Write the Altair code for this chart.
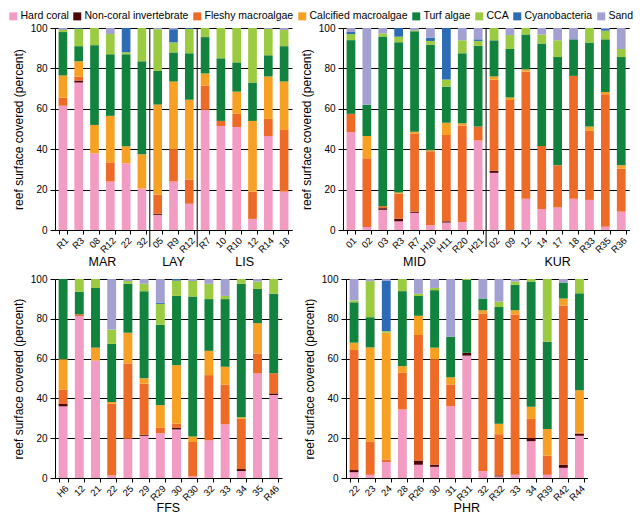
import altair as alt
import pandas as pd

FONT = "Liberation Sans"

CATEGORIES = ["Hard coral", "Non-coral invertebrate", "Fleshy macroalgae", "Calcified macroalgae",
              "Turf algae", "CCA", "Cyanobacteria", "Sand"]
COLORS = ["#F29BC3", "#4A0707", "#EE6A27", "#F7A124", "#12823F", "#9BCB40", "#2D6CB5", "#A2A1D2"]

# ---------------- Panel A: MAR / LAY / LIS ----------------
A_GROUPS = ["MAR"] * 6 + ["LAY"] * 3 + ["LIS"] * 6
A_SITES = ["R1", "R3", "08", "R12", "22", "32", "05", "R9", "R12", "R7", "10", "R10", "12", "R14", "18"]
A_HARD = [61.5, 73, 38, 24, 33, 20.5, 7.5, 24, 13, 59.5, 51.5, 51, 5.5, 46.5, 19]
A_NCI = [0, 1, 0, 0, 0, 0, 0.6, 0, 0, 0, 0, 0, 0, 0, 0]
A_FLESHY = [4, 2, 0, 9.5, 0, 0, 9.3, 16, 12, 12, 2.5, 6.5, 13.5, 8.5, 30.5]
A_CALC = [11, 7.5, 14, 23, 8.5, 17, 44.7, 33.5, 39.5, 6, 0, 11, 35, 21, 24]
A_TURF = [21.5, 7.5, 39.5, 30.5, 45.5, 46, 16.6, 14.4, 23, 18, 31, 14.5, 19, 10.5, 17.5]
A_CCA = [1, 8.7, 8.5, 10, 1, 16.5, 20.7, 5, 12, 4.5, 15, 17, 27, 13, 8]
A_CYANO = [0, 0.3, 0, 0, 12, 0, 0, 6.5, 0.5, 0, 0, 0, 0, 0, 0]
A_SAND = [1, 0, 0, 3, 0, 0, 0.6, 0.6, 0, 0, 0, 0, 0, 0.5, 1]

# ---------------- Panel B: MID / KUR ----------------
B_GROUPS = ["MID"] * 9 + ["KUR"] * 9
B_SITES = ["01", "02", "03", "R3", "R7", "H10", "H11", "R20", "H21",
           "02", "09", "12", "14", "17", "18", "R33", "R35", "R36"]
B_HARD = [48.5, 1.5, 10, 4.3, 8.5, 2.4, 3.7, 4, 44.3, 28.3, 0, 15.5, 10.4, 11.2, 15.5, 14.9, 1.6, 9.1]
B_NCI = [0, 0, 0.8, 1.3, 0.6, 0, 0.6, 0, 0, 1, 0, 0, 0, 0, 0, 0, 0, 0]
B_FLESHY = [9, 34, 1, 12.4, 38.7, 36.6, 42.7, 47.7, 6.9, 45.1, 64.3, 62.9, 31.2, 20.8, 60.8, 34.2, 65.6, 21.3]
B_CALC = [0, 11, 0, 0.6, 0.8, 0.5, 6.1, 1.1, 0, 1.6, 1.3, 1.1, 0, 0, 0, 2.1, 1.1, 1.6]
B_TURF = [36.5, 15.5, 84, 74.4, 49.8, 52.2, 17.9, 34.7, 40, 17.9, 24, 17.3, 50.7, 53.6, 18.1, 41.6, 26.1, 53.6]
B_CCA = [3, 0, 1.5, 2.7, 0.5, 1.9, 3.5, 6.4, 2.4, 6.1, 6.9, 3.2, 4.5, 8.3, 0, 7.2, 4.3, 4]
B_CYANO = [1, 0, 0, 4.3, 0, 1.6, 25.5, 0, 0.8, 0, 0, 0, 0, 0, 0, 0, 0.8, 0]
B_SAND = [2, 38, 2.7, 0, 1.1, 4.8, 0, 6.1, 5.6, 0, 3.5, 0, 3.2, 6.1, 5.6, 0, 0.5, 10.4]

# ---------------- Panel C: FFS ----------------
C_GROUPS = ["FFS"] * 14
C_SITES = ["H6", "12", "21", "22", "25", "29", "R29", "30", "R30", "32", "33", "34", "35", "R46"]
C_HARD = [36, 81.4, 59, 1.3, 19.7, 21.2, 22.5, 24.4, 0.8, 18.9, 27, 3.5, 52.6, 41.7]
C_NCI = [1.2, 0, 0, 0, 0, 0.5, 0, 0.8, 0, 0, 0, 1, 0, 0.8]
C_FLESHY = [7.3, 0.8, 0, 36.1, 37.8, 25.7, 2.7, 2.1, 17.3, 32.8, 20, 25.2, 10, 10.1]
C_CALC = [15.2, 0, 6.5, 0.8, 15.5, 2.7, 11.4, 29.4, 2.8, 12.2, 8.9, 0.8, 15.2, 0]
C_TURF = [40.3, 11.4, 30, 29.2, 24.6, 43.8, 40.4, 34.8, 70.3, 26, 34, 67.1, 17.2, 40]
C_CCA = [0, 6.4, 4.5, 7.2, 1.4, 3.7, 10.5, 7.7, 7.8, 7.7, 1.6, 2.4, 3.7, 7.4]
C_CYANO = [0, 0, 0, 0, 0, 0, 0.5, 0.8, 0, 0, 0, 0, 0, 0]
C_SAND = [0, 0, 0, 25.4, 1, 2.4, 12, 0, 1, 2.4, 8.5, 0, 1.3, 0]

# ---------------- Panel D: PHR ----------------
D_GROUPS = ["PHR"] * 15
D_SITES = ["22", "23", "24", "28", "R26", "30", "31", "R31", "32", "R32", "33", "34", "R39", "R42", "R44"]
D_HARD = [2.9, 1.6, 8, 34.5, 6.7, 5.6, 36.1, 61.5, 3.5, 0.8, 1.6, 18.5, 1.6, 5.1, 21.2]
D_NCI = [1.1, 0, 0, 0, 2.1, 1.1, 0, 1.4, 0, 0.5, 0, 1.6, 0, 1.6, 1]
D_FLESHY = [60.3, 16.8, 1.3, 18.5, 63.1, 53, 10.9, 0, 79.2, 20.7, 80.6, 9.6, 9.6, 80, 0.6]
D_CALC = [3.7, 47.2, 63.7, 3.2, 9.6, 5.8, 3.6, 0, 1.6, 5.3, 2.1, 6.1, 13.4, 3.5, 21.3]
D_TURF = [20.3, 15.2, 0, 37.7, 10, 28.9, 20.4, 36.6, 5.9, 58.6, 12.8, 62.9, 43.9, 8, 48.7]
D_CCA = [1, 18.1, 0.8, 6.1, 1.1, 1.1, 0, 0.5, 0, 2.7, 1.6, 1.3, 31.5, 0, 7.2]
D_CYANO = [0, 0, 25.2, 0, 0, 0, 0, 0, 0, 0, 0, 0, 0, 0, 0]
D_SAND = [10.7, 1.1, 1, 0, 7.4, 4.5, 29, 0, 9.8, 11.4, 1.3, 0, 0, 1.8, 0]

Y_TICKS = [0, 20, 40, 60, 80, 100]
PAD_INNER = 0.45


def panel(groups, sites, series, step, height, label_dy):
    keys = [f"{g}|{s}" for g, s in zip(groups, sites)]
    rows = []
    for i, key in enumerate(keys):
        for k, cat in enumerate(CATEGORIES):
            rows.append({"key": key, "group": groups[i], "cat": cat, "k": k, "value": series[k][i]})
    df = pd.DataFrame(rows)

    order = list(dict.fromkeys(groups))
    sep_rows, odd_rows, even_rows = [], [], []
    for gi, g in enumerate(order):
        members = [key for key, gg in zip(keys, groups) if gg == g]
        if gi > 0:
            sep_rows.append({"key": members[0]})
        n = len(members)
        if n % 2:
            odd_rows.append({"key": members[n // 2], "group": g})
        else:
            even_rows.append({"key": members[n // 2], "group": g})

    gap = PAD_INNER * step / 2
    xscale = alt.Scale(paddingInner=PAD_INNER, paddingOuter=PAD_INNER / 2)
    xaxis = alt.Axis(labelExpr="split(datum.label, '|')[1]", labelAngle=-45,
                     tickBand="extent", tickSize=4, labelPadding=1, labelFontSize=9.5,
                     grid=False, title=None)

    def xenc(band):
        return alt.X("key:N", sort=keys, title=None, scale=xscale, axis=xaxis, bandPosition=band)

    bars = alt.Chart(df).mark_bar().encode(
        x=alt.X("key:N", sort=keys, title=None, scale=xscale, axis=xaxis),
        y=alt.Y("value:Q", stack="zero", scale=alt.Scale(domain=[0, 100], nice=False),
                axis=alt.Axis(values=Y_TICKS, title="reef surface covered (percent)",
                              grid=True, gridColor="black", gridOpacity=1, gridWidth=1,
                              tickSize=5, labelPadding=3, titlePadding=5)),
        color=alt.Color("cat:N", scale=alt.Scale(domain=CATEGORIES, range=COLORS),
                        legend=alt.Legend(title=None, orient="none", legendX=-47, legendY=-17,
                                          direction="horizontal", columns=8,
                                          symbolType="square", symbolSize=64, symbolStrokeWidth=0,
                                          labelFontSize=10.5, columnPadding=3, labelOffset=2,
                                          labelLimit=0)),
        order=alt.Order("k:Q", sort="ascending"),
    )
    layers = [bars]
    if sep_rows:
        layers.append(alt.Chart(pd.DataFrame(sep_rows)).mark_rule(
            color="black", strokeWidth=1, clip=False, xOffset=-gap
        ).encode(x=xenc(0), y=alt.value(0), y2=alt.value(height + 17)))
    if odd_rows:
        layers.append(alt.Chart(pd.DataFrame(odd_rows)).mark_text(
            fontSize=12.5, baseline="middle", clip=False
        ).encode(x=xenc(0.5), y=alt.value(height + label_dy), text="group:N"))
    if even_rows:
        layers.append(alt.Chart(pd.DataFrame(even_rows)).mark_text(
            fontSize=12.5, baseline="middle", clip=False, xOffset=-gap
        ).encode(x=xenc(0), y=alt.value(height + label_dy), text="group:N"))
    return alt.layer(*layers).properties(width=alt.Step(step), height=height)


pA = panel(A_GROUPS, A_SITES, [A_HARD, A_NCI, A_FLESHY, A_CALC, A_TURF, A_CCA, A_CYANO, A_SAND], 15.8, 202, 32)
pB = panel(B_GROUPS, B_SITES, [B_HARD, B_NCI, B_FLESHY, B_CALC, B_TURF, B_CCA, B_CYANO, B_SAND], 15.9, 202, 32)
pC = panel(C_GROUPS, C_SITES, [C_HARD, C_NCI, C_FLESHY, C_CALC, C_TURF, C_CCA, C_CYANO, C_SAND], 16.2, 199, 30)
pD = panel(D_GROUPS, D_SITES, [D_HARD, D_NCI, D_FLESHY, D_CALC, D_TURF, D_CCA, D_CYANO, D_SAND], 16.1, 199, 30)

top = alt.hconcat(pA, pB, spacing=8)
bottom = alt.hconcat(pC, pD, spacing=21)

chart = alt.vconcat(top, bottom, spacing=5).properties(
    padding={"left": 0, "top": 3, "right": 0, "bottom": 0}
).configure(font=FONT).configure_view(stroke=None).configure_axis(
    domainColor="black", tickColor="black", labelColor="black", titleColor="black",
    labelFont=FONT, titleFont=FONT, titleFontWeight="normal", labelFontSize=10, titleFontSize=12,
).configure_legend(labelFont=FONT, labelColor="black").configure_text(font=FONT, color="black")

chart.save("out.html", embed_options={"renderer": "svg", "actions": False})
